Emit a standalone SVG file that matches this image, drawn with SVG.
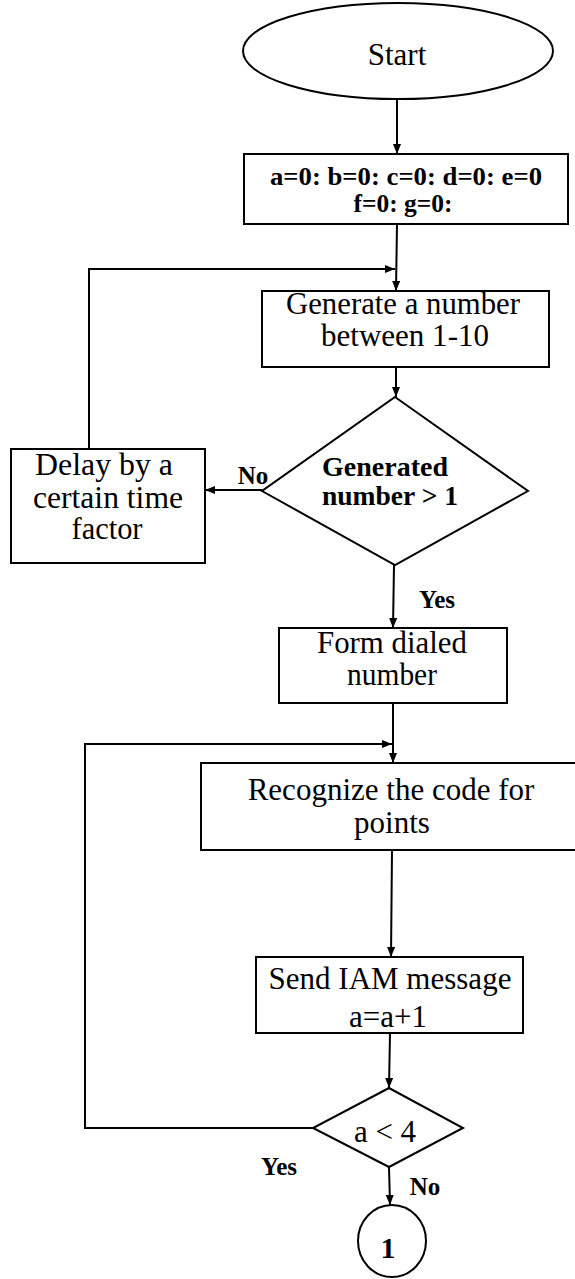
<svg xmlns="http://www.w3.org/2000/svg" width="575" height="1279" viewBox="0 0 575 1279">
  <style>
    .shape { fill: #ffffff; stroke: #000000; stroke-width: 2; }
    .wire { fill: none; stroke: #000000; stroke-width: 2; }
    .txt { font-family: "Liberation Serif", "Times New Roman", serif; font-size: 31px; fill: #000000; text-anchor: middle; }
    .bold { font-family: "Liberation Serif", "Times New Roman", serif; font-weight: bold; fill: #000000; text-anchor: middle; }
  </style>
  <defs>
    <marker id="arrow" markerUnits="userSpaceOnUse" markerWidth="10" markerHeight="8" refX="10" refY="4" orient="auto">
      <path d="M0,0 L10,4 L0,8 z" fill="#000000"/>
    </marker>
  </defs>
  <rect x="0" y="0" width="575" height="1279" fill="#ffffff"/>

  <!-- connectors and their branch labels -->
  <g id="connectors">
    <line class="wire" x1="397" y1="99" x2="397" y2="154" marker-end="url(#arrow)"/>
    <line class="wire" x1="397" y1="224" x2="396" y2="291" marker-end="url(#arrow)"/>
    <polyline class="wire" points="89,449 89,269 395,269" marker-end="url(#arrow)"/>
    <line class="wire" x1="396" y1="367" x2="396" y2="397" marker-end="url(#arrow)"/>
    <line class="wire" x1="262" y1="490" x2="205" y2="490" marker-end="url(#arrow)"/>
    <line class="wire" x1="394" y1="565" x2="393" y2="628" marker-end="url(#arrow)"/>
    <line class="wire" x1="393" y1="703" x2="393" y2="763" marker-end="url(#arrow)"/>
    <polyline class="wire" points="313,1128 85,1128 85,744 392,744" marker-end="url(#arrow)"/>
    <line class="wire" x1="392" y1="850" x2="391" y2="957" marker-end="url(#arrow)"/>
    <line class="wire" x1="390" y1="1033" x2="389" y2="1088" marker-end="url(#arrow)"/>
    <line class="wire" x1="389" y1="1167" x2="390" y2="1205" marker-end="url(#arrow)"/>
    <text class="bold" x="253" y="484" font-size="25">No</text>
    <text class="bold" x="437" y="608" font-size="25">Yes</text>
    <text class="bold" x="279" y="1175" font-size="25">Yes</text>
    <text class="bold" x="425" y="1195" font-size="25">No</text>
  </g>

  <g id="start">
    <ellipse class="shape" cx="398" cy="51" rx="155" ry="48"/>
    <text class="txt" x="397" y="65" font-size="36">Start</text>
  </g>

  <g id="init">
    <rect class="shape" x="244" y="154" width="324" height="70"/>
    <text class="bold" font-size="26"><tspan x="406" y="184.5" textLength="272" lengthAdjust="spacingAndGlyphs">a=0: b=0: c=0: d=0: e=0</tspan><tspan x="403" y="212" textLength="99" lengthAdjust="spacingAndGlyphs">f=0: g=0:</tspan></text>
  </g>

  <g id="generate">
    <rect class="shape" x="262" y="291" width="287" height="76"/>
    <text class="txt" font-size="27"><tspan x="403" y="314" textLength="234" lengthAdjust="spacingAndGlyphs">Generate a number</tspan><tspan x="405" y="346" textLength="168" lengthAdjust="spacingAndGlyphs">between 1-10</tspan></text>
  </g>

  <g id="check-number">
    <polygon class="shape" points="395,397 528,491 395,565 262,491"/>
    <text class="bold" font-size="27"><tspan x="385" y="476" textLength="126" lengthAdjust="spacingAndGlyphs">Generated</tspan><tspan x="390" y="504.5" textLength="136" lengthAdjust="spacingAndGlyphs">number &gt; 1</tspan></text>
  </g>

  <g id="delay">
    <rect class="shape" x="11" y="449" width="194" height="114"/>
    <text class="txt" font-size="26"><tspan x="104" y="475" textLength="138" lengthAdjust="spacingAndGlyphs">Delay by a</tspan><tspan x="108" y="507.5" textLength="150" lengthAdjust="spacingAndGlyphs">certain time</tspan><tspan x="107" y="539" textLength="71" lengthAdjust="spacingAndGlyphs">factor</tspan></text>
  </g>

  <g id="form-number">
    <rect class="shape" x="279" y="628" width="228" height="75"/>
    <text class="txt" font-size="27"><tspan x="392" y="653" textLength="150" lengthAdjust="spacingAndGlyphs">Form dialed</tspan><tspan x="392" y="684.5" textLength="90" lengthAdjust="spacingAndGlyphs">number</tspan></text>
  </g>

  <g id="recognize">
    <rect class="shape" x="201" y="763" width="380" height="87"/>
    <text class="txt"><tspan x="391" y="800">Recognize the code for</tspan><tspan x="392" y="833">points</tspan></text>
  </g>

  <g id="send-iam">
    <rect class="shape" x="256" y="957" width="267" height="76"/>
    <text class="txt"><tspan x="390" y="989">Send IAM message</tspan><tspan x="388" y="1027">a=a+1</tspan></text>
  </g>

  <g id="check-count">
    <polygon class="shape" points="389,1088 463,1128 389,1167 313,1128"/>
    <text class="txt" x="385" y="1142">a &lt; 4</text>
  </g>

  <g id="connector-1">
    <ellipse class="shape" cx="392" cy="1241" rx="34" ry="36"/>
    <text class="bold" x="388" y="1258" font-size="30">1</text>
  </g>
</svg>
